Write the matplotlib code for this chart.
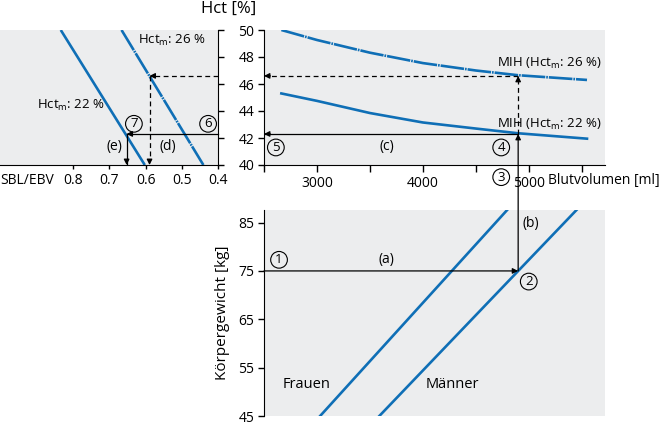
#!/usr/bin/env python3

"""Nomogram: Koerpergewicht -> Blutvolumen -> MIH -> SBL/EBV."""

import matplotlib
matplotlib.use('Agg')
import matplotlib.pyplot as plt
from matplotlib.patches import ConnectionPatch

plt.rcParams['font.family'] = ['Open Sans', 'DejaVu Sans']
plt.rcParams['mathtext.fontset'] = 'custom'
plt.rcParams['mathtext.rm'] = 'Open Sans'
plt.rcParams['lines.scale_dashes'] = False

BLUE = '#0f6fb6'
GRAY = '#ecedee'
FS = 10

# Blutvolumen [ml] vs Hct [%] (MIH curves)
bv_curve = [2664, 3000, 3500, 4000, 4500, 4900, 5550]
mih_26 = [50.0, 49.26, 48.32, 47.55, 47.0, 46.65, 46.3]
mih_22 = [45.3, 44.75, 43.85, 43.15, 42.7, 42.35, 41.95]

# SBL/EBV vs Hct [%]
sbl_26 = [0.666, 0.441]
sbl_22 = [0.833, 0.602]
hct_sbl = [50, 40]

# Koerpergewicht [kg] vs Blutvolumen [ml]
kg_line = [45, 87.6]
frauen_bv = [3030, 4796]
maenner_bv = [3589, 5451]

# example reading
ex_kg = 75
ex_bv = 4900
ex_hct22 = 42.3
ex_hct26 = 46.6
ex_sbl22 = 0.652
ex_sbl26 = 0.589

W, H = 662, 425
fig = plt.figure(figsize=(W / 100, H / 100), dpi=100)


def box(x0, y0, x1, y1):
    return [x0 / W, 1 - y1 / H, (x1 - x0) / W, (y1 - y0) / H]


ax_l = fig.add_axes(box(0, 30, 218.3, 165))
ax_t = fig.add_axes(box(264, 30, 605, 165))
ax_b = fig.add_axes(box(264, 210, 605, 416))

for ax in (ax_l, ax_t, ax_b):
    ax.set_facecolor(GRAY)
    for s in ax.spines.values():
        s.set_visible(False)
    ax.tick_params(labelsize=FS, width=1, color='k', length=4, pad=3)

arrow_kw = dict(arrowstyle='-|>', color='k', lw=0.9, mutation_scale=8,
                shrinkA=0, shrinkB=0)
dash_kw = dict(color='k', lw=0.9, dashes=(3.5, 2.5))


def head(ax, tip, frm):
    ax.annotate('', xy=tip, xytext=frm, arrowprops=arrow_kw,
                annotation_clip=False)


def circ(ax, x, y, s):
    ax.text(x, y, s, ha='center', va='center', fontsize=9.5,
            bbox=dict(boxstyle='circle,pad=0.14', fc='none', ec='k', lw=0.8),
            transform=ax.transData, clip_on=False)


# ---- left panel: SBL/EBV
ax_l.set_xlim(1.0, 0.4)
ax_l.set_ylim(40, 50)
ax_l.spines['bottom'].set_visible(True)
ax_l.spines['right'].set_visible(True)
ax_l.yaxis.tick_right()
ax_l.set_yticks(range(40, 51, 2))
ax_l.set_yticklabels([])
ax_l.set_xticks([0.8, 0.7, 0.6, 0.5, 0.4])
ax_l.set_xticklabels(['0.8', '0.7', '0.6', '0.5', '0.4'])
ax_l.tick_params(axis='x', length=3, pad=3)
ax_l.plot(sbl_22, hct_sbl, color=BLUE, lw=1.9, solid_capstyle='butt')
ax_l.plot(sbl_26, hct_sbl, color=BLUE, lw=1.9, dashes=(17, 0.7, 1.2, 0.7))
ax_l.text(0.62, 49.2, 'Hct$_\\mathrm{m}$: 26 %', fontsize=9.5, va='center')
ax_l.text(0.898, 44.4, 'Hct$_\\mathrm{m}$: 22 %', fontsize=9.5, va='center')
ax_l.text(0.0, -0.118, 'SBL/EBV', transform=ax_l.transAxes, fontsize=FS,
          va='center', ha='left')

# (d) and (e)
ax_l.plot([0.4, ex_sbl22], [ex_hct22, ex_hct22], color='k', lw=0.9, clip_on=False)
head(ax_l, (ex_sbl22, ex_hct22), (ex_sbl22 - 0.01, ex_hct22))
ax_l.plot([ex_sbl22, ex_sbl22], [ex_hct22, 40], color='k', lw=0.9)
head(ax_l, (ex_sbl22, 40), (ex_sbl22, 40.4))
# dashed path for 26 %
ax_l.plot([0.4, ex_sbl26], [ex_hct26, ex_hct26], **dash_kw)
head(ax_l, (ex_sbl26, ex_hct26), (ex_sbl26 - 0.01, ex_hct26))
ax_l.plot([ex_sbl26, ex_sbl26], [ex_hct26, 40.4], **dash_kw)
head(ax_l, (ex_sbl26, 40), (ex_sbl26, 40.4))
ax_l.text(0.54, 41.4, '(d)', fontsize=FS, ha='center', va='center')
ax_l.text(0.685, 41.35, '(e)', fontsize=FS, ha='center', va='center')
circ(ax_l, 0.632, 43.05, '7')
circ(ax_l, 0.428, 43.05, '6')

# ---- top right: Hct vs Blutvolumen
ax_t.set_xlim(2500, 5720)
ax_t.set_ylim(40, 50)
ax_t.spines['left'].set_visible(True)
ax_t.spines['bottom'].set_visible(True)
ax_t.set_yticks(range(40, 51, 2))
ax_t.tick_params(axis='y', pad=3)
ax_t.set_xticks(range(2500, 5600, 500))
ax_t.set_xticklabels(['', '3000', '', '4000', '', '5000', ''])
ax_t.tick_params(axis='x', length=5, pad=3)
ax_t.plot(bv_curve, mih_26, color=BLUE, lw=1.9, dashes=(17, 0.7, 1.2, 0.7))
ax_t.plot(bv_curve, mih_22, color=BLUE, lw=1.9)
ax_t.text(4700, 47.5, 'MIH (Hct$_\\mathrm{m}$: 26 %)', fontsize=9.5, va='center')
ax_t.text(4700, 43.0, 'MIH (Hct$_\\mathrm{m}$: 22 %)', fontsize=9.5, va='center')
ax_t.text(0.833, -0.118, 'Blutvolumen [ml]', transform=ax_t.transAxes,
          fontsize=FS, va='center', ha='left')
fig.text(229 / W, 1 - 9 / H, 'Hct [%]', fontsize=12, ha='center', va='center')

# (c)
ax_t.plot([ex_bv, 2500], [ex_hct22, ex_hct22], color='k', lw=0.9)
head(ax_t, (2500, ex_hct22), (2560, ex_hct22))
ax_t.plot([ex_bv, 2560], [ex_hct26, ex_hct26], **dash_kw)
head(ax_t, (2500, ex_hct26), (2560, ex_hct26))
ax_t.plot([ex_bv, ex_bv], [ex_hct22, ex_hct26 - 0.3], **dash_kw)
head(ax_t, (ex_bv, ex_hct26), (ex_bv, ex_hct26 - 0.4))
ax_t.text(3660, 41.35, '(c)', fontsize=FS, ha='center', va='center')
circ(ax_t, 2612, 41.3, '5')
circ(ax_t, 4740, 41.3, '4')
circ(ax_t, 4740, 39.1, '3')

# ---- bottom: Koerpergewicht vs Blutvolumen
ax_b.set_xlim(2500, 5720)
ax_b.set_ylim(45, 87.6)
ax_b.spines['left'].set_visible(True)
ax_b.set_xticks([])
ax_b.set_yticks(range(45, 86, 10))
ax_b.tick_params(axis='y', pad=3)
ax_b.set_ylabel('Körpergewicht [kg]', fontsize=11, labelpad=6)
ax_b.plot(frauen_bv, kg_line, color=BLUE, lw=1.9)
ax_b.plot(maenner_bv, kg_line, color=BLUE, lw=1.9)
ax_b.text(2680, 51.5, 'Frauen', fontsize=10.5, va='center')
ax_b.text(4030, 51.5, 'Männer', fontsize=10.5, va='center')

# (a)
ax_b.annotate('', xy=(ex_bv, ex_kg), xytext=(2500, ex_kg), arrowprops=arrow_kw)
ax_b.text(3660, 77.4, '(a)', fontsize=FS, ha='center', va='center')
circ(ax_b, 2642, 77.3, '1')
circ(ax_b, 5000, 72.8, '2')
ax_b.text(ex_bv + 40, 84.8, '(b)', fontsize=FS, ha='left', va='center')

# (b) crosses from bottom to top panel
con = ConnectionPatch(xyA=(ex_bv, ex_kg), coordsA=ax_b.transData,
                      xyB=(ex_bv, ex_hct22), coordsB=ax_t.transData,
                      arrowstyle='-|>', color='k', lw=0.9, mutation_scale=8,
                      shrinkA=0, shrinkB=0)
fig.add_artist(con)

plt.savefig('out.png', dpi=100)
